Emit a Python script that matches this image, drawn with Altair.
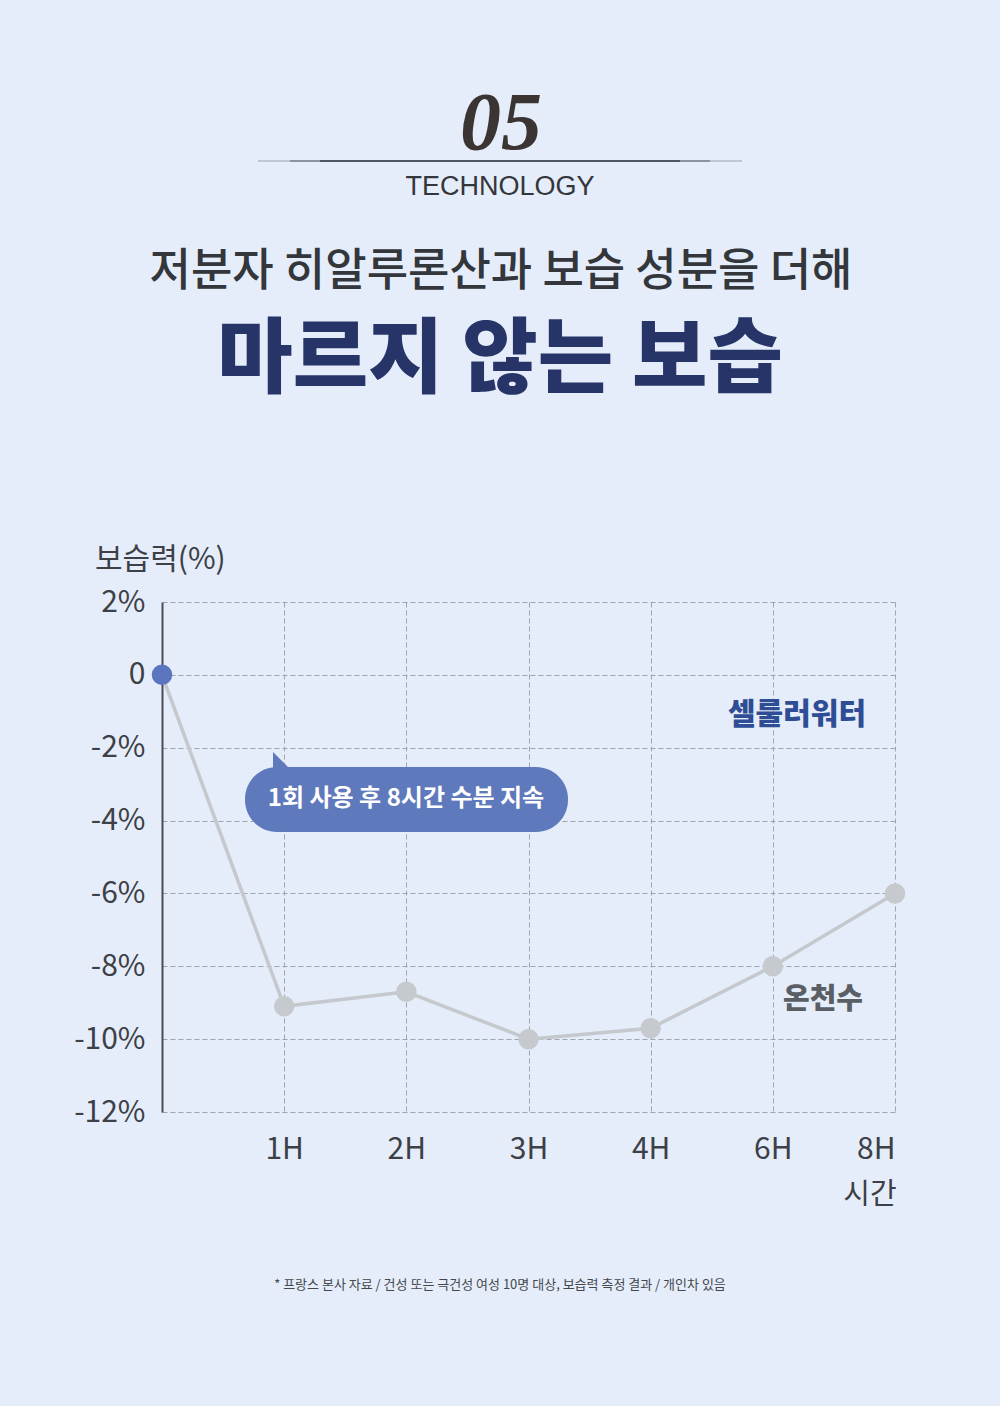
import altair as alt
import pandas as pd

# ---- data ----
hour_index = [0, 1, 2, 3, 4, 5, 6]
hour_labels = ["", "1H", "2H", "3H", "4H", "6H", "8H"]
thermal_water = [0, -9.1, -8.7, -10.0, -9.7, -8.0, -6.0]
y_ticks = [2, 0, -2, -4, -6, -8, -10, -12]

df = pd.DataFrame({"idx": hour_index, "label": hour_labels, "value": thermal_water})
start = pd.DataFrame({"idx": [hour_index[0]], "value": [thermal_water[0]]})
rest = df.iloc[1:]

OX, OY = 162, 602  # plot origin in page pixels
W, H = 733, 510
BG = "#e5edfa"
KR = "Noto Sans CJK KR"

one = alt.Data(values=[{"a": 1}])

def txt(s, x, y, size, color, weight=400, font=KR, style="normal", align="center"):
    return alt.Chart(one).mark_text(
        text=s, fontSize=size, color=color, fontWeight=weight, font=font,
        fontStyle=style, align=align, baseline="middle"
    ).encode(x=alt.value(x - OX), y=alt.value(y - OY))

def rule(x1, x2, y, color, width, opacity=1.0):
    return alt.Chart(one).mark_rule(color=color, strokeWidth=width, opacity=opacity).encode(
        x=alt.value(x1 - OX), x2=alt.value(x2 - OX), y=alt.value(y - OY)
    )

xscale = alt.Scale(domain=[0, 6], nice=False, zero=False)
yscale = alt.Scale(domain=[-12, 2], nice=False, zero=False)

base = alt.Chart(df).encode(
    x=alt.X("idx:Q", scale=xscale, axis=alt.Axis(
        values=[1, 2, 3, 4, 5, 6], grid=True, ticks=False, domain=False, title=None,
        labelExpr="['','1H','2H','3H','4H','6H','8H'][datum.value]",
        labelFontSize=30, labelFont=KR, labelColor="#3d4046", labelPadding=22,
        gridDash=[5, 3], gridColor="#9ea5b0", gridWidth=1,
    )),
    y=alt.Y("value:Q", scale=yscale, axis=alt.Axis(
        values=y_ticks, grid=True, ticks=False, domain=True, title=None,
        labelExpr="datum.value == 0 ? '0' : datum.value + '%'",
        labelFontSize=30, labelFont=KR, labelColor="#3d4046", labelPadding=17,
        domainColor="#4a4d52", domainWidth=2,
        gridDash=[5, 3], gridColor="#9ea5b0", gridWidth=1,
    )),
)

line = base.mark_line(color="#c5c8cc", strokeWidth=3.5)
pts = alt.Chart(rest).mark_circle(size=420, color="#c6c9cd", opacity=1).encode(
    x=alt.X("idx:Q", scale=xscale), y=alt.Y("value:Q", scale=yscale))
startpt = alt.Chart(start).mark_circle(size=420, color="#5b76bf", opacity=1).encode(
    x=alt.X("idx:Q", scale=xscale), y=alt.Y("value:Q", scale=yscale))

# bubble
bubble = alt.Chart(one).mark_rect(color="#5f79bd", cornerRadius=32).encode(
    x=alt.value(245 - OX), x2=alt.value(568 - OX), y=alt.value(767 - OY), y2=alt.value(832 - OY))
tail = alt.Chart(one).mark_point(
    shape="M -1 -1 L -1 1 L 1 1 Z", filled=True, color="#5f79bd", opacity=1, size=324, strokeWidth=0
).encode(x=alt.value(282 - OX), y=alt.value(761 - OY))

layers = [
    line, pts, startpt, bubble, tail,
    txt("1회 사용 후 8시간 수분 지속", 406, 799, 24, "white", 700),
    txt("셀룰러워터", 797, 715, 30, "#2e4d94", 900),
    txt("온천수", 823, 1000, 29, "#5a5f66", 900),
    txt("보습력(%)", 95, 560, 30, "#3d4046", 400, align="left"),
    txt("시간", 870, 1195, 29, "#3d4046"),
    # header
    txt("05", 501, 124, 82, "#3a3432", 700, font="Liberation Serif", style="italic"),
    rule(258, 290, 161, "#4f5864", 2, 0.25),
    rule(710, 742, 161, "#4f5864", 2, 0.25),
    rule(290, 320, 161, "#4f5864", 2, 0.6),
    rule(680, 710, 161, "#4f5864", 2, 0.6),
    rule(320, 680, 161, "#4f5864", 2, 1.0),
    txt("TECHNOLOGY", 500, 187, 27, "#33363b", 400, font="Liberation Sans"),
    txt("저분자 히알루론산과 보습 성분을 더해", 501, 272, 45, "#33363b", 500),
    txt("마르지 않는 보습", 500, 361, 82, "#263468", 900),
    txt("* 프랑스 본사 자료  / 건성 또는 극건성 여성 10명 대상, 보습력 측정 결과 / 개인차 있음",
        500, 1285, 13, "#44474c"),
]

chart = alt.layer(*layers).properties(
    width=W, height=H,
    autosize=alt.AutoSizeParams(type="none"),
    padding={"left": OX, "top": OY, "right": 1000 - OX - W, "bottom": 1406 - OY - H},
    background=BG,
).configure_view(stroke=None)

chart.save("out.html", embed_options={"renderer": "svg", "actions": False})
